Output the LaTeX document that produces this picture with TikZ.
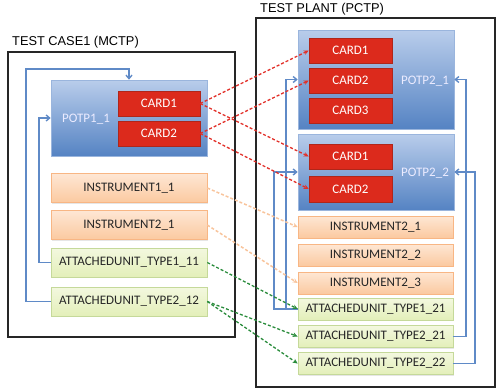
\documentclass[tikz,border=0pt]{standalone}
\usepackage{fontspec}
\setmainfont{Carlito}
\newfontfamily\titlefont{Liberation Sans}
\usetikzlibrary{arrows.meta,shadows}
\definecolor{potptop}{HTML}{B9CDEB}
\definecolor{potpbot}{HTML}{5583C3}
\definecolor{potpedge}{HTML}{9AB5DD}
\definecolor{cardred}{HTML}{DC2A1C}
\definecolor{cardedge}{HTML}{B0261A}
\definecolor{insttop}{HTML}{FEE7D4}
\definecolor{instbot}{HTML}{FBC9A0}
\definecolor{instedge}{HTML}{F8B684}
\definecolor{autop}{HTML}{F3F8DF}
\definecolor{aubot}{HTML}{E3EFB9}
\definecolor{auedge}{HTML}{C5D99A}
\definecolor{blueline}{HTML}{5F8AC7}
\definecolor{reddash}{HTML}{E2312A}
\definecolor{orangedash}{HTML}{F8C49C}
\definecolor{greendash}{HTML}{2A8C3C}
\tikzset{
  potpbox/.style={rectangle,inner sep=0pt,top color=potptop,bottom color=potpbot,draw=potpedge,line width=0.6pt,
     drop shadow={opacity=0.25,shadow xshift=1pt,shadow yshift=-1pt}},
  cardbox/.style={rectangle,inner sep=0pt,fill=cardred,draw=cardedge,line width=0.5pt,text=white,font=\fontsize{13}{15}\selectfont,
     minimum width=82pt,minimum height=25pt,drop shadow={opacity=0.35,shadow xshift=1pt,shadow yshift=-1pt}},
  instbox/.style={rectangle,inner sep=0pt,top color=insttop,bottom color=instbot,draw=instedge,line width=0.6pt,
     font=\fontsize{13}{15}\selectfont,text=black!85,drop shadow={opacity=0.2,shadow xshift=1pt,shadow yshift=-1pt}},
  aubox/.style={rectangle,inner sep=0pt,top color=autop,bottom color=aubot,draw=auedge,line width=0.6pt,
     font=\fontsize{13}{15}\selectfont,text=black!85,drop shadow={opacity=0.2,shadow xshift=1pt,shadow yshift=-1pt}},
  potplabel/.style={text=white!92!blue,font=\fontsize{13}{15}\selectfont,inner sep=0pt},
  frame/.style={draw=black!85,line width=1.3pt},
  titletext/.style={font=\titlefont\fontsize{12.8}{14}\selectfont,anchor=west,inner sep=0pt},
  bluecon/.style={draw=blueline,line width=1.4pt,-{Straight Barb[length=3.5pt,width=6pt]}},
  reddashed/.style={draw=reddash,line width=1.3pt,dash pattern=on 3pt off 2pt,-{Stealth[length=5pt,width=4.5pt]}},
  orangedashed/.style={draw=orangedash,line width=1.5pt,dash pattern=on 3pt off 2pt,-{Stealth[length=5pt,width=4.5pt]}},
  greendashed/.style={draw=greendash,line width=1.3pt,dash pattern=on 3pt off 2pt,-{Stealth[length=5pt,width=4.5pt]}}
}
\begin{document}
\begin{tikzpicture}[x=1pt,y=-1pt]
\useasboundingbox (0,0) rectangle (497,389);
% frames
\draw[frame] (8,52) rectangle (235,337);
\node[titletext] (t1) at (12,42) {TEST CASE1 (MCTP)};
\draw[frame] (256,18) rectangle (495,387);
\node[titletext] (t2) at (260,9) {TEST PLANT (PCTP)};
% left side
\node[potpbox,minimum width=156pt,minimum height=76pt] (potp11) at (129,118) {};
\node[potplabel] (potp11l) at (86,119) {POTP1\_1};
\node[cardbox] (lcard1) at (159,103.5) {CARD1};
\node[cardbox] (lcard2) at (159,133.5) {CARD2};
\node[instbox,minimum width=156pt,minimum height=29pt] (inst11) at (129,188) {INSTRUMENT1\_1};
\node[instbox,minimum width=156pt,minimum height=29pt] (inst21) at (129,225) {INSTRUMENT2\_1};
\node[aubox,minimum width=156pt,minimum height=29pt] (au111) at (129,262.5) {ATTACHEDUNIT\_TYPE1\_11};
\node[aubox,minimum width=156pt,minimum height=29pt] (au212) at (129,301.5) {ATTACHEDUNIT\_TYPE2\_12};
% right side
\node[potpbox,minimum width=156pt,minimum height=99pt] (potp21) at (376,79.5) {};
\node[potplabel] (potp21l) at (425,81) {POTP2\_1};
\node[cardbox,minimum width=83pt] (rc11) at (350.5,50.5) {CARD1};
\node[cardbox,minimum width=83pt] (rc12) at (350.5,80.5) {CARD2};
\node[cardbox,minimum width=83pt] (rc13) at (350.5,110.5) {CARD3};
\node[potpbox,minimum width=156pt,minimum height=76pt] (potp22) at (376,172) {};
\node[potplabel] (potp22l) at (425,173) {POTP2\_2};
\node[cardbox,minimum width=83pt] (rc21) at (350.5,156.5) {CARD1};
\node[cardbox,minimum width=83pt,minimum height=26pt] (rc22) at (350.5,189) {CARD2};
\node[instbox,minimum width=155pt,minimum height=22pt] (i21) at (375.5,227) {INSTRUMENT2\_1};
\node[instbox,minimum width=155pt,minimum height=22pt] (i22) at (375.5,255) {INSTRUMENT2\_2};
\node[instbox,minimum width=155pt,minimum height=22pt] (i23) at (375.5,283) {INSTRUMENT2\_3};
\node[aubox,minimum width=155pt,minimum height=22pt] (au121) at (375.5,309) {ATTACHEDUNIT\_TYPE1\_21};
\node[aubox,minimum width=155pt,minimum height=22pt] (au221) at (375.5,336.5) {ATTACHEDUNIT\_TYPE2\_21};
\node[aubox,minimum width=155pt,minimum height=22pt] (au222) at (375.5,363.5) {ATTACHEDUNIT\_TYPE2\_22};
% blue connectors
\coordinate (lA) at (26,69);
\coordinate (lB) at (39,118);
\coordinate (rA) at (286,79.5);
\coordinate (rB) at (274,172);
\coordinate (rC) at (466,79.5);
\coordinate (rD) at (475,172);
\draw[bluecon] (au212.west) -| (lA) -| (potp11.north);
\draw[bluecon] (au111.west) -| (lB) -- (potp11.west);
\draw[bluecon] (au121.west) -| (rA) -- (potp21.west);
\draw[bluecon] (au121.west) -| (rB) -- (potp22.west);
\draw[bluecon] (au221.east) -| (rC) -- (potp21.east);
\draw[bluecon] (au222.east) -| (rD) -- (potp22.east);
% dashed connectors
\draw[reddashed] (lcard1.east) -- (rc11.west);
\draw[reddashed] (lcard1.east) -- (rc21.west);
\draw[reddashed] (lcard2.east) -- (rc12.west);
\draw[reddashed] (lcard2.east) -- (rc22.west);
\draw[orangedashed] (inst11.east) -- (i21.west);
\draw[orangedashed] (inst21.east) -- (i23.west);
\draw[greendashed] (au111.east) -- (au121.west);
\draw[greendashed] (au212.east) -- (au221.west);
\draw[greendashed] (au212.east) -- (au222.west);
\end{tikzpicture}
\end{document}
